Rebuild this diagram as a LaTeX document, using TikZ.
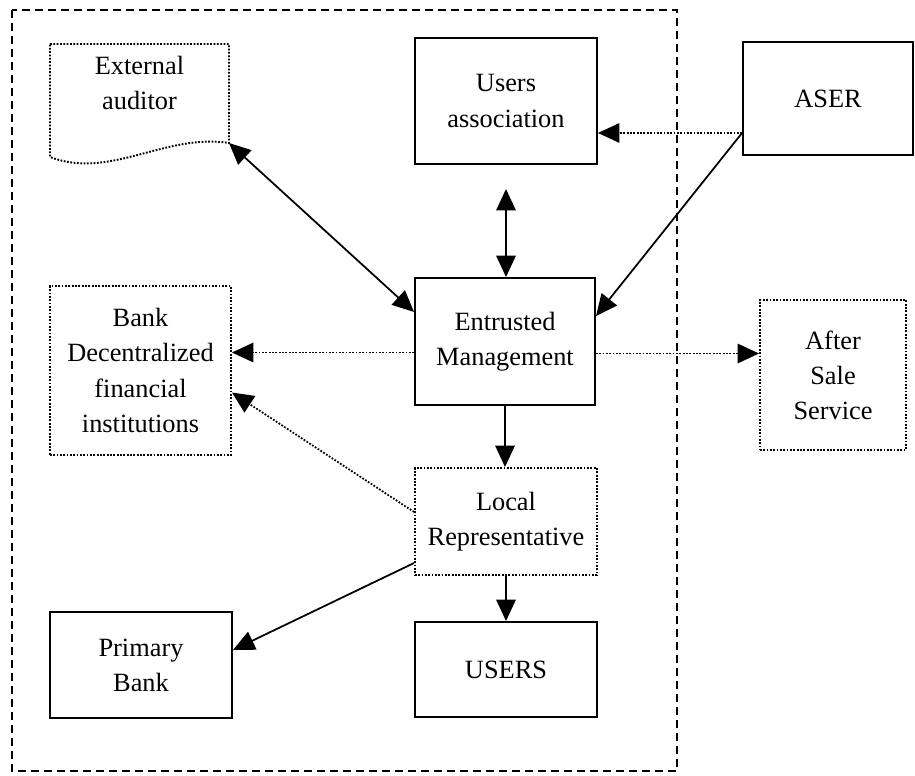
\documentclass[tikz,border=0pt]{standalone}
\usepackage{fontspec}
\setmainfont{Liberation Serif}
\usetikzlibrary{arrows.meta,calc}
\newcommand{\boxfont}{\fontsize{15}{20}\selectfont}
\tikzset{
  fine dots/.style={dash pattern=on 1pt off 0.9pt},
  solidbox/.style={draw,line width=1.1pt,align=center,inner sep=0pt,font=\boxfont},
  dotbox/.style={draw,fine dots,line width=1.1pt,align=center,inner sep=0pt,font=\boxfont},
  link/.style={line width=1pt,-{Triangle[length=0.43cm,width=0.39cm]}},
  dotlink/.style={link,fine dots},
  bothlink/.style={line width=1pt,{Triangle[length=0.43cm,width=0.39cm]}-{Triangle[length=0.43cm,width=0.39cm]}},
  frame/.style={line width=1pt,dash pattern=on 0.16cm off 0.1cm}
}

\begin{document}
\begin{tikzpicture}[x=0.02cm,y=-0.02cm]
\useasboundingbox (0,0) rectangle (915,775);
\draw[frame] (12,10) rectangle (677,771);
\draw[fine dots,line width=1.1pt] (50,44)--(229,44)--(229,143) .. controls (165,133) and (110,180) .. (50,157)--cycle;
\coordinate (ext-tip) at (229,143);
\node[font=\boxfont,align=center] (ext) at (139.5,83) {External\\auditor};
\node[solidbox,minimum width=3.64cm,minimum height=2.52cm] (users) at (506,101) {Users\\association};
\node[solidbox,minimum width=3.4cm,minimum height=2.26cm] (aser) at (828,98.5) {ASER};
\node[solidbox,minimum width=3.6cm,minimum height=2.54cm] (ent) at (505,341.5) {Entrusted\\Management};
\node[dotbox,minimum width=3.62cm,minimum height=3.38cm] (bank) at (140.5,370.5) {Bank\\Decentralized\\financial\\institutions};
\node[dotbox,minimum width=2.92cm,minimum height=3cm] (after) at (833,375) {After\\Sale\\Service};
\node[dotbox,minimum width=3.64cm,minimum height=2.14cm] (local) at (506,521.5) {Local\\Representative};
\node[solidbox,minimum width=3.64cm,minimum height=2.12cm] (primary) at (141,665) {Primary\\Bank};
\node[solidbox,minimum width=3.64cm,minimum height=1.9cm] (usr) at (506,669.5) {USERS};
\coordinate (aser-out) at ($(aser.south west)+(0,-23)$);
\coordinate (ent-l) at ($(ent.west)+(0,11)$);
\coordinate (ent-r) at ($(ent.east)+(0,12)$);
\draw[bothlink] (ext-tip) -- (ent.162);
\draw[bothlink,shorten <=0.48cm] (users.south) -- (users.south |- ent.north);
\draw[dotlink] (aser-out) -- (aser-out -| users.east);
\draw[link] (aser-out) -- ($(ent.north east)+(0,39)$);
\draw[dotlink] (ent-l) -- (ent-l -| bank.east);
\draw[dotlink] (ent-r) -- (ent-r -| after.west);
\draw[link] (ent.south) -- (ent.south |- local.north);
\draw[dotlink] ($(local.west)+(0,-9.5)$) -- ($(bank.east)+(0,22)$);
\draw[link] ($(local.west)+(0,41.5)$) -- ($(primary.east)+(0,-15)$);
\draw[link] (local.south) -- (local.south |- usr.north);
\end{tikzpicture}
\end{document}
